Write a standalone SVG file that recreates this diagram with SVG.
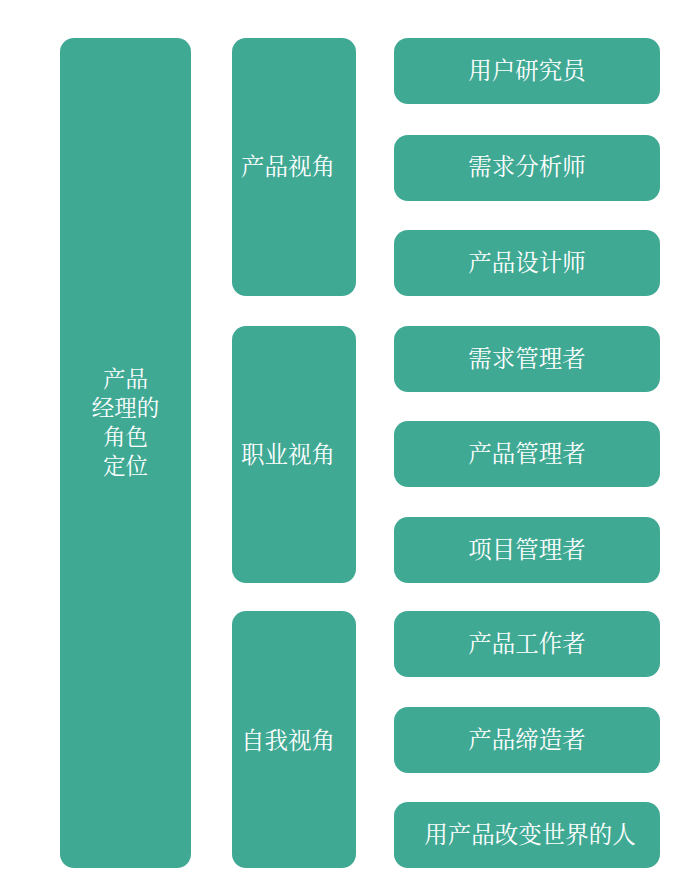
<svg xmlns="http://www.w3.org/2000/svg" width="695" height="891" viewBox="0 0 695 891">
<style>
.b{fill:#3FA994}
.t{fill:#FFFFFF;font-family:"Noto Serif CJK SC","Noto Sans CJK SC",sans-serif;font-size:23.5px;text-anchor:middle;dominant-baseline:central}
.s{font-size:22.5px}
</style>
<rect width="695" height="891" fill="#FFFFFF"/>
<g id="root"><rect class="b" x="60" y="38" width="131" height="830" rx="14"/>
<text class="t s"><tspan x="125.5" y="377">产品</tspan><tspan x="125.5" y="406">经理的</tspan><tspan x="125.5" y="435">角色</tspan><tspan x="125.5" y="464">定位</tspan></text></g>
<g id="m1"><rect class="b" x="232" y="38" width="124" height="258" rx="14"/><text class="t" x="288" y="165">产品视角</text></g>
<g id="m2"><rect class="b" x="232" y="326" width="124" height="257" rx="14"/><text class="t" x="288" y="453">职业视角</text></g>
<g id="m3"><rect class="b" x="232" y="611" width="124" height="257" rx="14"/><text class="t" x="288" y="739">自我视角</text></g>
<g id="r1"><rect class="b" x="394" y="38" width="266" height="66" rx="14"/><text class="t" x="527" y="69">用户研究员</text></g>
<g id="r2"><rect class="b" x="394" y="135" width="266" height="66" rx="14"/><text class="t" x="527" y="165">需求分析师</text></g>
<g id="r3"><rect class="b" x="394" y="230" width="266" height="66" rx="14"/><text class="t" x="527" y="261">产品设计师</text></g>
<g id="r4"><rect class="b" x="394" y="326" width="266" height="66" rx="14"/><text class="t" x="527" y="357">需求管理者</text></g>
<g id="r5"><rect class="b" x="394" y="421" width="266" height="66" rx="14"/><text class="t" x="527" y="452">产品管理者</text></g>
<g id="r6"><rect class="b" x="394" y="517" width="266" height="66" rx="14"/><text class="t" x="527" y="548">项目管理者</text></g>
<g id="r7"><rect class="b" x="394" y="611" width="266" height="66" rx="14"/><text class="t" x="527" y="642">产品工作者</text></g>
<g id="r8"><rect class="b" x="394" y="707" width="266" height="66" rx="14"/><text class="t" x="527" y="738">产品缔造者</text></g>
<g id="r9"><rect class="b" x="394" y="802" width="266" height="66" rx="14"/><text class="t" x="530" y="833">用产品改变世界的人</text></g>
<g id="connectors"/>
</svg>
